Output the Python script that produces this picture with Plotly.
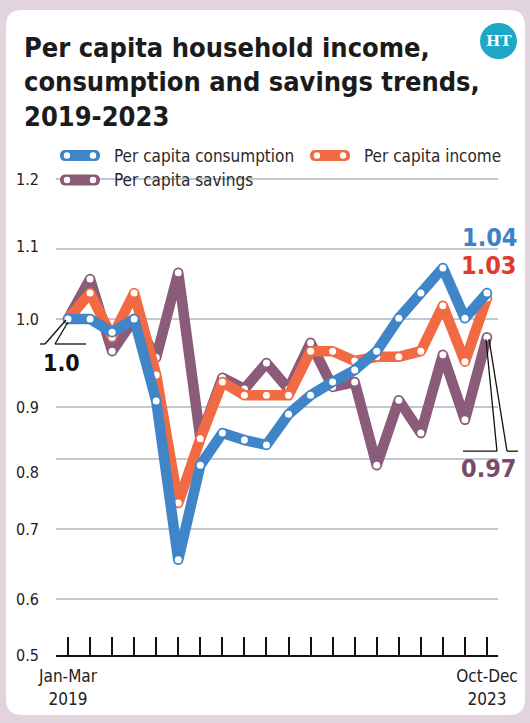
import plotly.graph_objects as go

# ---------------- data ----------------
QUARTERS = list(range(20))  # Jan-Mar 2019 ... Oct-Dec 2023
X_TICK_TEXT = ["Jan-Mar<br>2019"] + [""] * 18 + ["Oct-Dec<br>2023"]

consumption = [1.0, 1.0, 0.981, 1.0, 0.883, 0.656, 0.791, 0.837, 0.827, 0.82,
               0.864, 0.891, 0.91, 0.927, 0.954, 1.001, 1.037, 1.073, 1.001, 1.037]
income = [1.0, 1.037, 0.974, 1.037, 0.92, 0.737, 0.829, 0.91, 0.891, 0.891,
          0.891, 0.954, 0.954, 0.94, 0.946, 0.946, 0.954, 1.019, 0.939, 1.03]
savings = [1.0, 1.057, 0.954, 1.0, 0.945, 1.066, 0.83, 0.916, 0.9, 0.937,
           0.9, 0.966, 0.903, 0.91, 0.791, 0.884, 0.837, 0.949, 0.856, 0.974]

SERIES_NAMES = ["Per capita consumption", "Per capita income", "Per capita savings"]
GRID_VALS = [0.6, 0.7, 0.8, 0.874, 1.0, 1.1, 1.2]
Y_LABELS = ["0.5", "0.6", "0.7", "0.8", "0.9", "1.0", "1.1", "1.2"]
Y_LABEL_POS = [0.52, 0.6, 0.699, 0.781, 0.873, 1.0, 1.103, 1.2]

# ---------------- style ----------------
W, H = 530, 723
ML, MR, MT, MB = 56, 32, 165, 68
PW, PH = W - ML - MR, H - MT - MB
XR = [-0.544, 19.5]
YR = [0.52, 1.22]

BLUE = "#3f85c8"
ORANGE = "#f26a43"
PURPLE = "#8a5c79"
FONT = "DejaVu Sans Condensed, Liberation Sans Narrow, sans-serif"


def PX(px):
    return (px - ML) / PW


def PY(py):
    return (MT + PH - py) / PH


def dx(i):
    return (i - XR[0]) / (XR[1] - XR[0])


def dy(v):
    return (v - YR[0]) / (YR[1] - YR[0])


fig = go.Figure()

COLORS = {SERIES_NAMES[0]: BLUE, SERIES_NAMES[1]: ORANGE, SERIES_NAMES[2]: PURPLE}
# draw order: savings (bottom), income, consumption (top)
for name, vals in [(SERIES_NAMES[2], savings), (SERIES_NAMES[1], income),
                   (SERIES_NAMES[0], consumption)]:
    fig.add_trace(go.Scatter(
        x=QUARTERS, y=vals, name=name, mode="lines+markers",
        line=dict(color=COLORS[name], width=10.5),
        marker=dict(color="white", size=7),
        cliponaxis=False, showlegend=False,
    ))

shapes = []
# card background
x0, x1, y0, y1, r = PX(6), PX(525), PY(10), PY(715), 16
rx, ry = r / PW, r / PH
path = (f"M {x0+rx},{y0} L {x1-rx},{y0} Q {x1},{y0} {x1},{y0-ry} "
        f"L {x1},{y1+ry} Q {x1},{y1} {x1-rx},{y1} L {x0+rx},{y1} "
        f"Q {x0},{y1} {x0},{y1+ry} L {x0},{y0-ry} Q {x0},{y0} {x0+rx},{y0} Z")
shapes.append(dict(type="path", path=path, xref="paper", yref="paper",
                   fillcolor="white", line=dict(width=0), layer="below"))
# logo circle
shapes.append(dict(type="circle", xref="paper", yref="paper",
                   x0=PX(480), x1=PX(517), y0=PY(59), y1=PY(23),
                   fillcolor="#1ea8c6", line=dict(width=0)))


def seg(ax, ay, ox0, oy0, ox1, oy1):
    return dict(type="line", xref="paper", yref="paper",
                x0=ax + ox0 / PW, y0=ay - oy0 / PH,
                x1=ax + ox1 / PW, y1=ay - oy1 / PH,
                line=dict(color="#111", width=1.3))


# callout for start value
sx, sy = dx(0), dy(consumption[0])
shapes += [seg(sx, sy, -2, 1, -23, 25), seg(sx, sy, 0, 3, -13, 25),
           seg(sx, sy, -28, 25, -23, 25), seg(sx, sy, -13, 25, 18, 25)]
# callout for savings end value
ex, ey = dx(19), dy(savings[-1])
shapes += [seg(ex, ey, -1, 2, 10, 114), seg(ex, ey, 2, 2, 20, 114),
           seg(ex, ey, -24, 114, 10, 114), seg(ex, ey, 20, 114, 31, 114)]

annotations = []
# custom legend (capsule icon with two white dots)
LEGEND_POS = [(60, 155.5), (310, 155.5), (60, 180)]
for name, (lx, ly) in zip(SERIES_NAMES, LEGEND_POS):
    col = COLORS[name]
    L, R, h = lx, lx + 40, 5.5
    a, b, c, d = PX(L), PX(R), PY(ly - h), PY(ly + h)
    rr = h / PW
    mid = PY(ly)
    p = (f"M {a+rr},{c} L {b-rr},{c} Q {b},{c} {b},{mid} Q {b},{d} {b-rr},{d} "
         f"L {a+rr},{d} Q {a},{d} {a},{mid} Q {a},{c} {a+rr},{c} Z")
    shapes.append(dict(type="path", path=p, xref="paper", yref="paper",
                       fillcolor=col, line=dict(width=0)))
    for cx in (L + 7, R - 7):
        shapes.append(dict(type="circle", xref="paper", yref="paper",
                           x0=PX(cx - 3.2), x1=PX(cx + 3.2), y0=PY(ly + 3.2), y1=PY(ly - 3.2),
                           fillcolor="white", line=dict(width=0)))
    annotations.append(dict(text=name, xref="paper", yref="paper", x=PX(R + 12), y=PY(ly),
                            xanchor="left", yanchor="middle", showarrow=False,
                            font=dict(family=FONT, size=17, color="#2a2a2a")))

# title
TITLE_LINES = ["Per capita household income,", "consumption and savings trends,", "2019-2023"]
for k, t in enumerate(TITLE_LINES):
    annotations.append(dict(text=f"<b>{t}</b>", xref="paper", yref="paper",
                            x=PX(22), y=PY(47 + 35 * k), xanchor="left", yanchor="middle",
                            showarrow=False, font=dict(family=FONT, size=27, color="#1b1b1b")))
# logo text
annotations.append(dict(text="<b>HT</b>", xref="paper", yref="paper", x=PX(498.5), y=PY(41),
                        xanchor="center", yanchor="middle", showarrow=False,
                        font=dict(family="DejaVu Serif", size=15, color="white")))
# y labels
for lab, pos in zip(Y_LABELS, Y_LABEL_POS):
    annotations.append(dict(text=lab, xref="paper", yref="y", x=PX(41), y=pos,
                            xanchor="right", yanchor="middle", showarrow=False,
                            font=dict(family=FONT, size=16, color="#222")))
# value labels
annotations.append(dict(text=f"<b>{consumption[0]:.1f}</b>", xref="paper", yref="paper",
                        x=sx - 6 / PW, y=sy - 44 / PH, xanchor="center", yanchor="middle",
                        showarrow=False, font=dict(family=FONT, size=23, color="#111")))
annotations.append(dict(text=f"<b>{consumption[-1]:.2f}</b>", xref="paper", yref="paper",
                        x=dx(19) + 3 / PW, y=dy(consumption[-1]) + 56 / PH,
                        xanchor="center", yanchor="middle", showarrow=False,
                        font=dict(family=FONT, size=25, color="#3d82c6")))
annotations.append(dict(text=f"<b>{income[-1]:.2f}</b>", xref="paper", yref="paper",
                        x=dx(19) + 2 / PW, y=dy(income[-1]) + 32 / PH,
                        xanchor="center", yanchor="middle", showarrow=False,
                        font=dict(family=FONT, size=25, color="#e3392b")))
annotations.append(dict(text=f"<b>{savings[-1]:.2f}</b>", xref="paper", yref="paper",
                        x=ex + 2 / PW, y=ey - 131 / PH,
                        xanchor="center", yanchor="middle", showarrow=False,
                        font=dict(family=FONT, size=25, color="#7a4b69")))

fig.update_layout(
    width=W, height=H,
    margin=dict(l=ML, r=MR, t=MT, b=MB, pad=0),
    paper_bgcolor="#e2d4de", plot_bgcolor="rgba(0,0,0,0)",
    shapes=shapes, annotations=annotations,
    showlegend=False,
    xaxis=dict(range=XR, tickvals=QUARTERS, ticktext=X_TICK_TEXT, ticks="inside",
               ticklen=18, tickwidth=2, tickcolor="#111", showline=True, linecolor="#111",
               linewidth=2, showgrid=False, zeroline=False, ticklabelstandoff=5,
               tickfont=dict(family=FONT, size=17, color="#222")),
    yaxis=dict(range=YR, tickvals=GRID_VALS, showticklabels=False, ticks="",
               showgrid=True, gridcolor="#c0c9d1", gridwidth=2, zeroline=False,
               showline=False),
    font=dict(family=FONT),
)

# round line joins/caps like the original artwork
POST = ("var gd=document.getElementById('{plot_id}');"
        "function rj(){gd.querySelectorAll('path.js-line').forEach(function(p){"
        "p.style.strokeLinejoin='round';p.style.strokeLinecap='round';});}"
        "rj();gd.on('plotly_afterplot',rj);")
fig.write_html("out.html", post_script=POST)
